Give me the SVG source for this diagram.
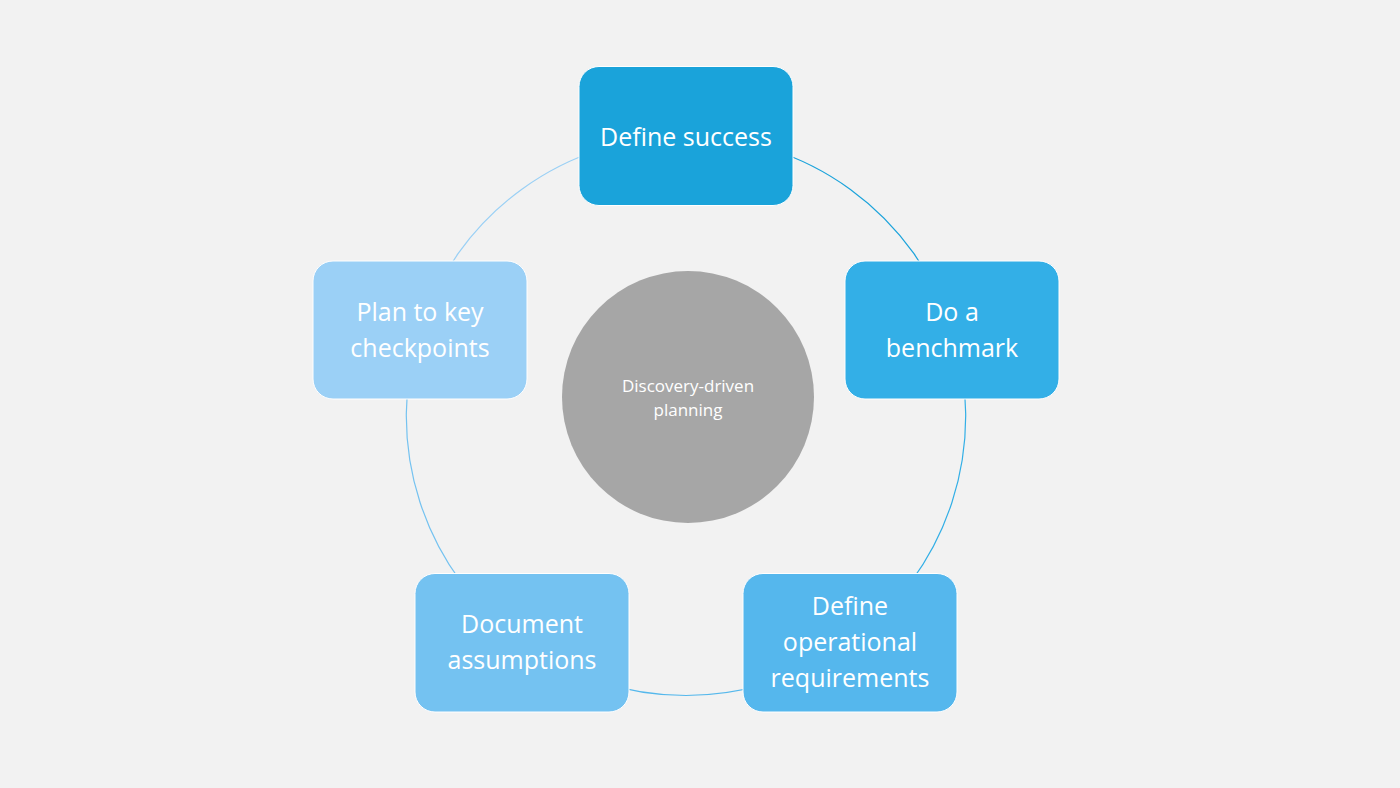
<svg xmlns="http://www.w3.org/2000/svg" width="1400" height="788" viewBox="0 0 1400 788">
  <style>
    .ring { fill: none; stroke-width: 1.2; }
    .box { stroke: #ffffff; stroke-width: 1; }
    .lbl { font-family: "Open Sans", "Liberation Sans", sans-serif; font-size: 25px; fill: #ffffff; text-anchor: middle; }
    .ctr { font-family: "Open Sans", "Liberation Sans", sans-serif; font-size: 17px; fill: #ffffff; text-anchor: middle; }
  </style>
  <rect x="0" y="0" width="1400" height="788" fill="#f2f2f2"/>
  <g id="connectors">
    <path class="ring" stroke="#1ba3db" d="M686,136 A279.7,279.7 0 0 1 952,329.4"/>
    <path class="ring" stroke="#33afe6" d="M952,329.4 A279.7,279.7 0 0 1 850.4,642.1"/>
    <path class="ring" stroke="#55b8ec" d="M850.4,642.1 A279.7,279.7 0 0 1 521.6,642.1"/>
    <path class="ring" stroke="#74c2f0" d="M521.6,642.1 A279.7,279.7 0 0 1 420,329.4"/>
    <path class="ring" stroke="#9ad0f5" d="M420,329.4 A279.7,279.7 0 0 1 686,136"/>
  </g>
  <g id="center">
    <circle cx="688" cy="397" r="126" fill="#a6a6a6"/>
    <text class="ctr" x="688" y="392">Discovery-driven</text>
    <text class="ctr" x="688" y="416">planning</text>
  </g>
  <g id="define-success">
    <rect class="box" x="579" y="66.5" width="214" height="139" rx="20" fill="#1aa3da"/>
    <text class="lbl" x="686" y="146">Define success</text>
  </g>
  <g id="do-a-benchmark">
    <rect class="box" x="845" y="261" width="214" height="138" rx="20" fill="#33afe7"/>
    <text class="lbl" x="952" y="321">Do a</text>
    <text class="lbl" x="952" y="357">benchmark</text>
  </g>
  <g id="define-operational-requirements">
    <rect class="box" x="743" y="573.5" width="214" height="138.5" rx="20" fill="#55b7ed"/>
    <text class="lbl" x="850" y="615">Define</text>
    <text class="lbl" x="850" y="651">operational</text>
    <text class="lbl" x="850" y="687">requirements</text>
  </g>
  <g id="document-assumptions">
    <rect class="box" x="415" y="573.5" width="214" height="138.5" rx="20" fill="#74c2f1"/>
    <text class="lbl" x="522" y="633">Document</text>
    <text class="lbl" x="522" y="669">assumptions</text>
  </g>
  <g id="plan-to-key-checkpoints">
    <rect class="box" x="313" y="261" width="214" height="138" rx="20" fill="#9bd0f6"/>
    <text class="lbl" x="420" y="321">Plan to key</text>
    <text class="lbl" x="420" y="357">checkpoints</text>
  </g>
</svg>
